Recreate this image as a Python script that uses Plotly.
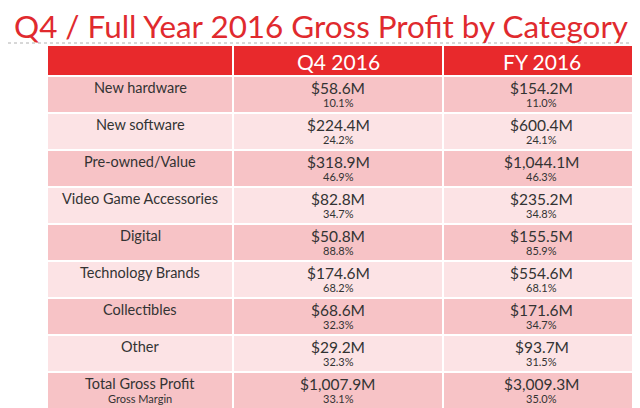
import plotly.graph_objects as go

categories = ["New hardware", "New software", "Pre-owned/Value", "Video Game Accessories",
              "Digital", "Technology Brands", "Collectibles", "Other", "Total Gross Profit"]
q4_profit = ["$58.6M", "$224.4M", "$318.9M", "$82.8M", "$50.8M", "$174.6M", "$68.6M", "$29.2M", "$1,007.9M"]
q4_margin = ["10.1%", "24.2%", "46.9%", "34.7%", "88.8%", "68.2%", "32.3%", "32.3%", "33.1%"]
fy_profit = ["$154.2M", "$600.4M", "$1,044.1M", "$235.2M", "$155.5M", "$554.6M", "$171.6M", "$93.7M", "$3,009.3M"]
fy_margin = ["11.0%", "24.1%", "46.3%", "34.8%", "85.9%", "68.1%", "34.7%", "31.5%", "35.0%"]
header_labels = ["", "Q4 2016", "FY 2016"]
sub_labels = ["", "", "", "", "", "", "", "", "Gross Margin"]

# layout (table geometry)
col_edges = [0, 186, 396, 593]
header_h = 0.85
n = len(categories)
row_edges = [-header_h] + list(range(n + 1))

DARK, LIGHT, RED = "#f7c3c6", "#fce3e5", "#e8292c"
TXT = "#333333"
FONT = "Lato"

z = [[2, 2, 2]] + [[i % 2] * 3 for i in range(n)]

fig = go.Figure(go.Heatmap(
    x=col_edges, y=row_edges, z=z, zmin=0, zmax=2,
    colorscale=[[0, DARK], [0.5, LIGHT], [1, RED]], showscale=False,
    xgap=2, ygap=2, hoverinfo="skip"))

centers = [(col_edges[i] + col_edges[i + 1]) / 2 for i in range(3)]
anns = []
for cx, lab in zip(centers, header_labels):
    if lab:
        anns.append(dict(x=cx, y=-header_h / 2, text=lab, showarrow=False, yshift=-1,
                         font=dict(color="white", size=21, family=FONT)))
columns_main = [categories, q4_profit, fy_profit]
columns_sub = [sub_labels, q4_margin, fy_margin]
main_sizes = [14.5, 15.5, 15.5]
for ci, cx in enumerate(centers):
    for ri in range(n):
        anns.append(dict(x=cx, y=ri + 0.5, text=columns_main[ci][ri], showarrow=False, yshift=7,
                         font=dict(color=TXT, size=main_sizes[ci], family=FONT)))
        if columns_sub[ci][ri]:
            anns.append(dict(x=cx, y=ri + 0.5, text=columns_sub[ci][ri], showarrow=False, yshift=-8,
                             font=dict(color=TXT, size=11, family=FONT)))

anns.append(dict(text="Q4 / Full Year 2016 Gross Profit by Category", xref="paper", yref="paper",
                 x=4/640, y=1 - 18/408, xanchor="left", yanchor="middle", showarrow=False,
                 font=dict(color="#e02a2e", size=31.4, family=FONT)))

fig.add_shape(type="line", xref="paper", yref="paper", x0=0, x1=1, y0=1 - 35/408, y1=1 - 35/408,
              line=dict(color="#b0b0b0", width=1, dash="dot"))

fig.update_layout(
    width=640, height=408, margin=dict(l=0, r=0, t=0, b=0),
    paper_bgcolor="white", plot_bgcolor="white", annotations=anns,
    xaxis=dict(domain=[39/640, 632/640], range=[0, 593], visible=False, fixedrange=True),
    yaxis=dict(domain=[7/408, 1 - 37/408], range=[n, -header_h], visible=False, fixedrange=True),
)
fig.write_html("out.html")
